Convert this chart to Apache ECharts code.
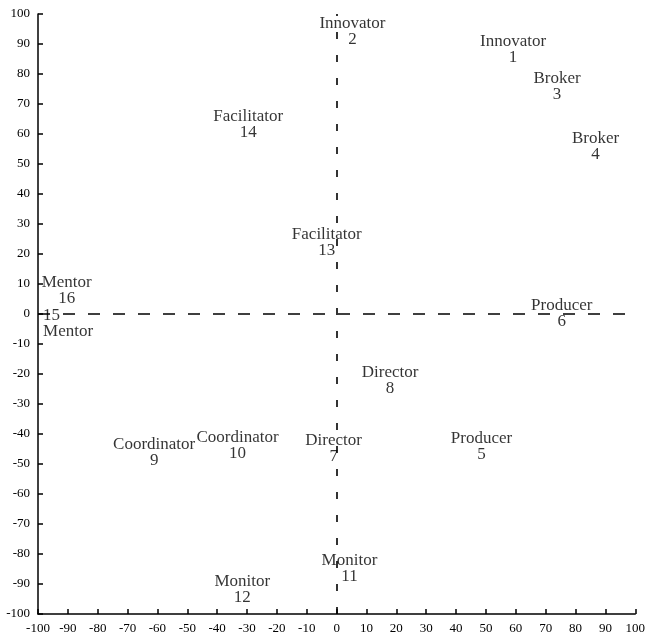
<!DOCTYPE html>
<html>
<head>
<meta charset="utf-8">
<script src="https://cdn.jsdelivr.net/npm/echarts@6/dist/echarts.min.js"></script>
<style>html,body{margin:0;padding:0;background:#fff;overflow:hidden}#c{width:100vw;height:100vh}</style>
</head>
<body>
<div id="c"></div>
<script>
var roles = ['Innovator','Innovator','Broker','Broker','Producer','Producer','Director','Director','Coordinator','Coordinator','Monitor','Monitor','Facilitator','Facilitator','Mentor','Mentor'];
var ids = ['1','2','3','4','5','6','7','8','9','10','11','12','13','14','15','16'];
var xs = [59.1, 5.3, 73.8, 86.7, 48.5, 75.4, -1, 17.9, -61.1, -33.2, 4.3, -31.6, -3.3, -29.6, -98.3, -90.4];
var ys = [88.3, 94, 75.7, 55.7, -44.3, 0.3, -45, -22.3, -46.3, -43.7, -84.7, -92, 23.7, 63, -3.3, 7.7];
var axisTicks = [-100,-90,-80,-70,-60,-50,-40,-30,-20,-10,0,10,20,30,40,50,60,70,80,90,100];

var FONT = '"Liberation Serif", "DejaVu Serif", serif';
var data = roles.map(function (r, i) {
  var item = { value: [xs[i], ys[i]], name: r };
  if (ids[i] === '15') {
    item.label = { formatter: '{n|' + ids[i] + '}\n{r|' + r + '}', align: 'left' };
  }
  return item;
});

var chart = echarts.init(document.getElementById('c'), null, {renderer: 'canvas'});
var axisCommon = {
  type: 'value', min: axisTicks[0], max: axisTicks[axisTicks.length - 1], interval: 10,
  axisLine: { show: true, onZero: false, lineStyle: { color: '#000', width: 1.5 } },
  axisTick: { show: true, inside: true, length: 5, lineStyle: { color: '#000', width: 1.5 } },
  axisLabel: { color: '#000', fontFamily: FONT, fontSize: 13, margin: 8 },
  splitLine: { show: false }
};
chart.setOption({
  animation: false,
  backgroundColor: '#fff',
  grid: { left: 38, right: 8, top: 14, bottom: 27, containLabel: false },
  xAxis: Object.assign({}, axisCommon, { position: 'bottom' }),
  yAxis: Object.assign({}, axisCommon, { position: 'left' }),
  series: [{
    type: 'scatter',
    symbolSize: 0,
    data: data,
    label: {
      show: true,
      position: 'inside',
      align: 'center',
      verticalAlign: 'middle',
      formatter: function (p) { return '{r|' + p.name + '}\n{n|' + ids[p.dataIndex] + '}'; },
      rich: {
        r: { fontFamily: FONT, fontSize: 17, color: '#000', lineHeight: 16 },
        n: { fontFamily: FONT, fontSize: 17, color: '#000', lineHeight: 16 }
      }
    },
    markLine: {
      silent: true,
      symbol: 'none',
      label: { show: false },
      data: [
        { xAxis: 0, lineStyle: { type: [7, 16], color: '#000', width: 1.6 } },
        { yAxis: 0, lineStyle: { type: [12, 13], color: '#000', width: 1.6 } }
      ]
    }
  }]
});
</script>
</body>
</html>
